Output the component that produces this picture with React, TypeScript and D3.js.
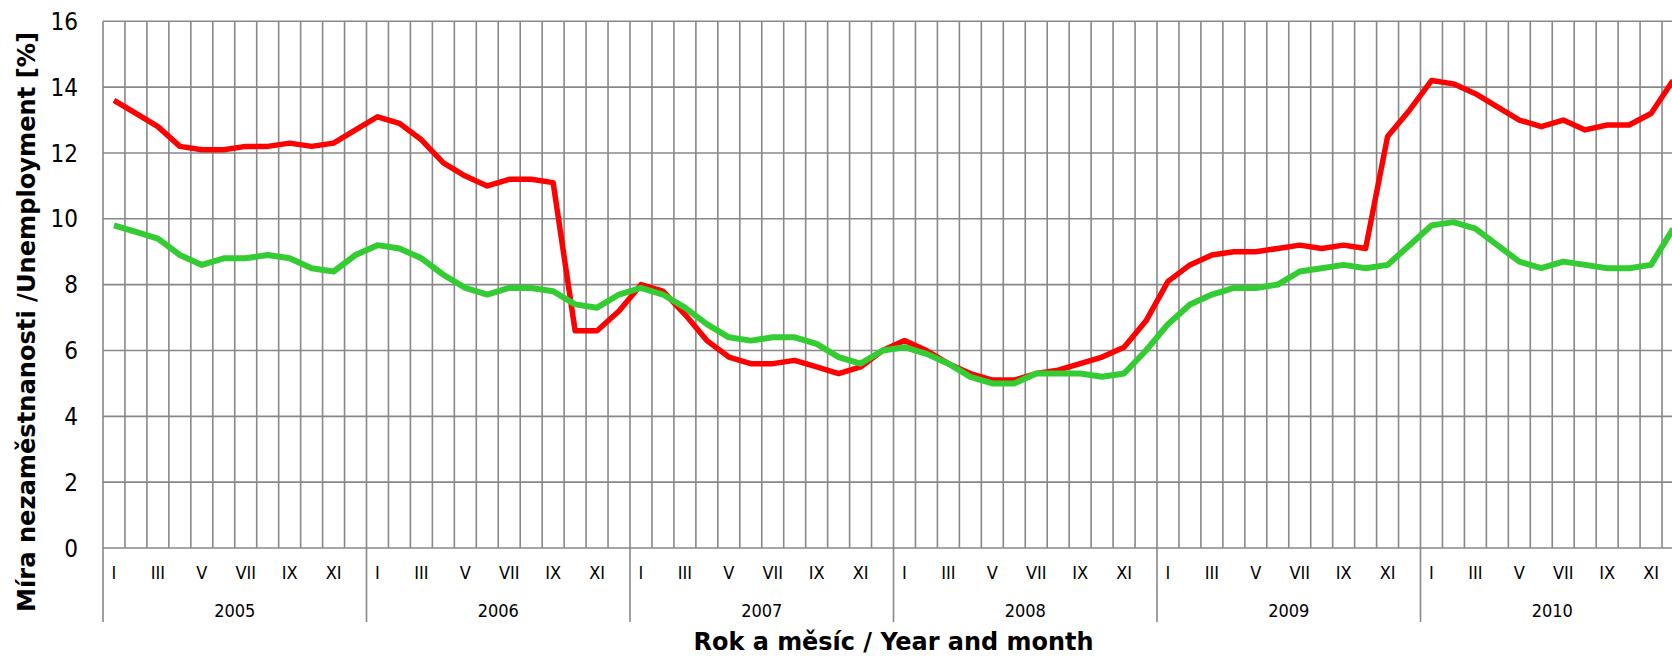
import React from 'react';
import * as d3 from 'd3';

const years = ['2005', '2006', '2007', '2008', '2009', '2010'];
const monthLabels = ['I', '', 'III', '', 'V', '', 'VII', '', 'IX', '', 'XI', ''];
const yTicks = [0, 2, 4, 6, 8, 10, 12, 14, 16];

const redSeries = [
  13.6, 13.2, 12.8, 12.2, 12.1, 12.1, 12.2, 12.2, 12.3, 12.2, 12.3, 12.7,
  13.1, 12.9, 12.4, 11.7, 11.3, 11.0, 11.2, 11.2, 11.1, 6.6, 6.6, 7.2,
  8.0, 7.8, 7.1, 6.3, 5.8, 5.6, 5.6, 5.7, 5.5, 5.3, 5.5, 6.0,
  6.3, 6.0, 5.6, 5.3, 5.1, 5.1, 5.3, 5.4, 5.6, 5.8, 6.1, 6.9,
  8.1, 8.6, 8.9, 9.0, 9.0, 9.1, 9.2, 9.1, 9.2, 9.1, 12.5, 13.3,
  14.2, 14.1, 13.8, 13.4, 13.0, 12.8, 13.0, 12.7, 12.85, 12.85, 13.2, 14.2,
];

const greenSeries = [
  9.8, 9.6, 9.4, 8.9, 8.6, 8.8, 8.8, 8.9, 8.8, 8.5, 8.4, 8.9,
  9.2, 9.1, 8.8, 8.3, 7.9, 7.7, 7.9, 7.9, 7.8, 7.4, 7.3, 7.7,
  7.9, 7.7, 7.3, 6.8, 6.4, 6.3, 6.4, 6.4, 6.2, 5.8, 5.6, 6.0,
  6.1, 5.9, 5.6, 5.2, 5.0, 5.0, 5.3, 5.3, 5.3, 5.2, 5.3, 6.0,
  6.8, 7.4, 7.7, 7.9, 7.9, 8.0, 8.4, 8.5, 8.6, 8.5, 8.6, 9.2,
  9.8, 9.9, 9.7, 9.2, 8.7, 8.5, 8.7, 8.6, 8.5, 8.5, 8.6, 9.7,
];

const yTitle = 'Míra nezaměstnanosti /Unemployment [%]';
const xTitle = 'Rok a měsíc / Year and month';

const W = 1672;
const H = 656;
const LEFT = 103;
const RIGHT = 1684;
const TOP = 21.3;
const BOTTOM = 548;
const GRID = '#888888';
const FONT = '"DejaVu Sans Condensed", "DejaVu Sans", sans-serif';

export default function App() {
  const months = years.flatMap((yr) => monthLabels.map((_, m) => `${yr}-${m}`));
  const x = d3.scaleBand<string>().domain(months).range([LEFT, RIGHT]).padding(0);
  const y = d3.scaleLinear().domain([0, 16]).range([BOTTOM, TOP]);
  const bw = x.bandwidth();
  const cx = (i: number) => (x(months[i]) as number) + bw / 2;

  const line = d3
    .line<number>()
    .x((_, i) => cx(i))
    .y((d) => y(d));

  const boundaries = d3.range(months.length + 1).map((k) =>
    k < months.length ? (x(months[k]) as number) : RIGHT
  );

  return (
    <svg
      width={W}
      height={H}
      style={{ position: 'fixed', left: 0, top: 0, background: '#fff' }}
      fontFamily={FONT}
    >
      <rect x={0} y={0} width={W} height={H} fill="#fff" />
      {yTicks.map((t) => (
        <line key={`h${t}`} x1={LEFT} x2={RIGHT} y1={y(t)} y2={y(t)} stroke={GRID} strokeWidth={1.6} />
      ))}
      {boundaries.map((bx, k) => (
        <line
          key={`v${k}`}
          x1={bx}
          x2={bx}
          y1={TOP}
          y2={k % 12 === 0 ? 622 : BOTTOM}
          stroke={GRID}
          strokeWidth={1.6}
        />
      ))}
      {yTicks.map((t) => (
        <text key={`yt${t}`} x={78} y={y(t)} dy="0.36em" textAnchor="end" fontSize={24} fill="#000">
          {t}
        </text>
      ))}
      {months.map((mk, i) =>
        monthLabels[i % 12] ? (
          <text key={`m${mk}`} x={cx(i)} y={579} textAnchor="middle" fontSize={18} fill="#000">
            {monthLabels[i % 12]}
          </text>
        ) : null
      )}
      {years.map((yr, j) => {
        const x0 = x(months[j * 12]) as number;
        return (
          <text key={`y${yr}`} x={x0 + bw * 6} y={617} textAnchor="middle" fontSize={18} fill="#000">
            {yr}
          </text>
        );
      })}
      <path d={line(redSeries) || ''} fill="none" stroke="#ff0000" strokeWidth={5.5} strokeLinejoin="round" />
      <path d={line(greenSeries) || ''} fill="none" stroke="#33cc33" strokeWidth={6} strokeLinejoin="round" />
      <text
        transform={`translate(35, 322) rotate(-90)`}
        textAnchor="middle"
        fontSize={25}
        fontWeight="bold"
        fill="#000"
        textLength={580}
        lengthAdjust="spacingAndGlyphs"
      >
        {yTitle}
      </text>
      <text
        x={(LEFT + RIGHT) / 2}
        y={650}
        textAnchor="middle"
        fontSize={24}
        fontWeight="bold"
        fill="#000"
        textLength={400}
        lengthAdjust="spacingAndGlyphs"
      >
        {xTitle}
      </text>
    </svg>
  );
}
